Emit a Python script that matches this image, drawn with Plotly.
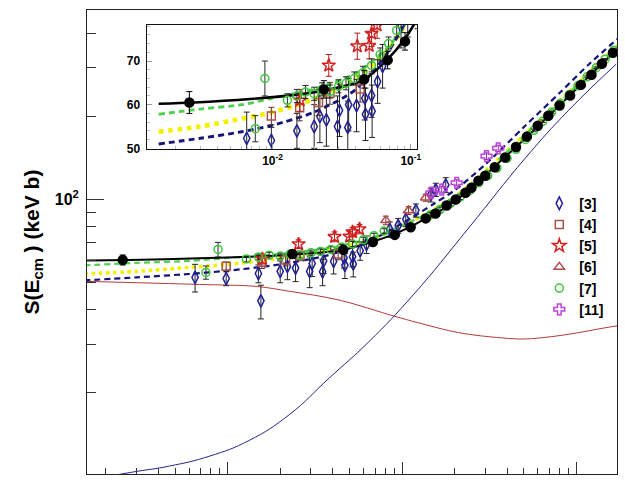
import plotly.graph_objects as go

# ---------------- model curves (E in MeV, S in keV b) ----------------
E_fit = [0.0015, 0.0027, 0.0069, 0.015, 0.024, 0.045, 0.067, 0.09, 0.112, 0.137,
         0.156, 0.20, 0.25, 0.357, 0.53, 0.786, 1.166, 1.75]
S_fit = [60.2, 60.5, 61.3, 62.3, 63.3, 65.6, 70.2, 75.0, 79.8, 85.5,
         89.1, 98.4, 110.4, 135.6, 170.6, 216.6, 277, 355]

E_grid = [0.0015, 0.003, 0.006, 0.01, 0.02, 0.04, 0.07, 0.1, 0.15, 0.2, 0.3, 0.5, 0.8, 1.2, 1.75]
S_green = [57.8, 59.0, 60.0, 61.5, 63.6, 67.2, 73.5, 80.5, 91, 101.5, 126, 170, 225, 289, 362]
S_yellow = [53.8, 55.0, 56.8, 58.3, 61.3, 66.0, 73.0, 80.5, 91.5, 102, 127, 171, 227, 291, 364]
S_navy = [51.0, 52.3, 53.8, 55.3, 58.3, 63.5, 72.5, 82, 96, 108, 134, 183, 243, 312, 385]

E_red = [0.0015, 0.0069, 0.0146, 0.0225, 0.0435, 0.0896, 0.1245, 0.211, 0.37, 0.5, 0.716, 1.0, 1.4, 1.75]
S_red = [50.6, 49.3, 48.5, 46.6, 43.3, 37.9, 35.8, 33.0, 31.6, 31.3, 31.9, 32.9, 34.2, 35.0]

E_blue = [0.00185, 0.002858, 0.004644, 0.007859, 0.0133, 0.02252, 0.03812, 0.06453,
          0.1166, 0.2404, 0.5091, 0.8966, 1.686]
S_blue = [9.84, 10.33, 10.86, 11.79, 13.45, 16.65, 22.58, 30.6,
          45.4, 78.8, 141.3, 209.6, 308.6]

# ---------------- data sets ----------------
E_dots = [0.0025, 0.0235, 0.046, 0.068, 0.0908, 0.112, 0.1366, 0.1556, 0.180, 0.203, 0.231,
          0.250, 0.274, 0.30, 0.34, 0.39, 0.45, 0.52, 0.60, 0.69, 0.80, 0.92, 1.06, 1.22, 1.40, 1.62]
S_dots = [60.5, 63.5, 65.8, 70.2, 74.5, 79.4, 85.5, 89.1, 95.2, 100, 105.9,
          110.4, 117, 122, 131, 142, 155, 169, 185, 201, 219, 238, 260, 283, 310, 340]
Err_dots = [2.5, 2.0, 2.0, 2.0, 2.0, 2.0, 2.0, 2.0, 2.0, 2.0, 2.0,
            2.0, 2.0, 2.0, 2.0, 2.0, 2.0, 2.0, 2.0, 2.0, 2.0, 2.0, 2.0, 2.0, 2.0, 2.0]

E3 = [0.0065, 0.0098, 0.0150, 0.0155, 0.0200, 0.0220, 0.0245, 0.0295, 0.0305, 0.0350, 0.0355,
      0.0405, 0.0465, 0.0470, 0.0520, 0.0525, 0.0575, 0.0625, 0.085, 0.095, 0.105, 0.120,
      0.146, 0.156, 0.178]
S3 = [52.3, 51.8, 54.0, 43.0, 55.0, 57.3, 56.5, 55.0, 58.7, 54.8, 60.0,
      59.8, 61.5, 57.8, 62.1, 58.5, 65.3, 68.8, 78.0, 80.5, 84.8, 91.4,
      104.0, 108.6, 113.0]
Err3 = [6, 3, 4, 6, 5, 6, 6, 7, 6, 6, 6,
        6, 5, 6, 5, 6, 5, 5, 5, 5, 5, 5,
        6, 6, 7]

E4 = [0.0098, 0.0157, 0.0215, 0.026, 0.043]
S4 = [57.4, 59.3, 60.5, 62.6, 63.6]
Err4 = [2, 3, 3, 2.5, 3]

E5 = [0.0158, 0.0255, 0.041, 0.050, 0.052, 0.057]
S5 = [61.0, 69.0, 73.4, 73.5, 76.3, 78.2]
Err5 = [2.5, 2.5, 3, 3, 3, 3]

E6 = [0.0807, 0.109, 0.1365]
S6 = [84.1, 91.3, 101.6]
Err6 = [3, 3, 3]

E7 = [0.0075, 0.0088, 0.0128, 0.0150, 0.0173, 0.0200, 0.0228, 0.026, 0.030, 0.034, 0.039,
      0.045, 0.052, 0.060, 0.069, 0.079, 0.145, 0.165, 0.19, 0.215, 0.245, 0.275, 0.31,
      0.35, 0.40, 0.45, 0.51, 0.57, 0.64, 0.72, 0.81, 0.91, 1.02, 1.15, 1.30, 1.46, 1.64]
S7 = [54.5, 66.0, 61.0, 62.0, 62.9, 62.5, 63.5, 63.0, 64.2, 64.9, 66.0,
      67.3, 69.0, 71.5, 74.0, 77.0, 88, 92, 97, 102, 108, 115, 122,
      130, 141, 152, 165, 178, 192, 207, 223, 240, 258, 278, 300, 322, 347]
Err7 = [3, 4, 1.5, 1.5, 1.5, 1.5, 1.5, 1.5, 1.5, 1.5, 1.5,
        1.5, 1.5, 1.5, 1.5, 1.5, 2, 2, 2, 2, 2, 2, 2,
        2, 2, 2, 2, 2, 2, 2, 2, 2, 2, 2, 2, 2, 2]

E11 = [0.1476, 0.1687, 0.2056, 0.305, 0.356]
S11 = [105.9, 108.6, 115.0, 143.6, 153.3]
Err11 = [3, 3, 3, 4, 4]

# tick positions
x_major = [0.01, 0.1, 1]
x_minor = [0.002, 0.003, 0.004, 0.005, 0.006, 0.007, 0.008, 0.009,
           0.02, 0.03, 0.04, 0.05, 0.06, 0.07, 0.08, 0.09,
           0.2, 0.3, 0.4, 0.5, 0.6, 0.7, 0.8, 0.9]
y_major = [100]
y_minor = [20, 30, 40, 50, 60, 70, 80, 90, 200, 300, 400]
ix_minor = [0.002, 0.003, 0.004, 0.005, 0.006, 0.007, 0.008, 0.009,
            0.02, 0.03, 0.04, 0.05, 0.06, 0.07, 0.08, 0.09]

FONT = "Liberation Sans, Arial, Helvetica, sans-serif"
fig = go.Figure()

AXES = [("x", "y", 1.0), ("x2", "y2", 1.3)]

def add_curve(E, S, color, width, dash, inset=True, smoothing=0.8):
    for xa, ya, k in (AXES if inset else AXES[:1]):
        fig.add_trace(go.Scatter(
            x=E, y=S, mode="lines", xaxis=xa, yaxis=ya, showlegend=False,
            hoverinfo="skip",
            line=dict(color=color, width=width * k, dash=dash, shape="spline",
                      smoothing=smoothing)))

add_curve(E_red, S_red, "#b03a3a", 1.0, "solid", inset=False, smoothing=1.0)
add_curve(E_blue, S_blue, "#25258a", 1.0, "solid", inset=False, smoothing=1.3)
add_curve(E_grid, S_yellow, "#f2f200", 3.6, "dot")
add_curve(E_grid, S_green, "#4fd14f", 2.2, "6px,4px")
add_curve(E_grid, S_navy, "#14147a", 2.2, "6px,4px")
add_curve(E_fit, S_fit, "#000000", 2.0, "solid")

def add_data(E, S, err, name, symbol, color, size, ecolor):
    for i, (xa, ya, k) in enumerate(AXES):
        fig.add_trace(go.Scatter(
            x=E, y=S, mode="markers", xaxis=xa, yaxis=ya,
            name=name, showlegend=(i == 0 and name is not None),
            error_y=dict(type="data", array=err, color=ecolor, thickness=1, width=3),
            marker=dict(symbol=symbol, size=size, color=color,
                        line=dict(color=color, width=1.5))))

add_data(E3, S3, Err3, "[3]", "diamond-tall-open", "#1f1f9a", 9, "#222222")
add_data(E4, S4, Err4, "[4]", "square-open", "#a8524a", 8, "#5a3030")
add_data(E5, S5, Err5, "[5]", "star-open", "#d42020", 10, "#b02020")
add_data(E6, S6, Err6, "[6]", "triangle-up-open", "#b04848", 9, "#803030")
add_data(E7, S7, Err7, "[7]", "circle-open", "#3ec43e", 8, "#2a2a2a")
add_data(E11, S11, Err11, "[11]", "cross-open", "#c040e0", 9, "#8a3aa0")
add_data(E_dots, S_dots, Err_dots, None, "circle", "#000000", 9, "#000000")

fig.update_layout(
    width=625, height=483,
    margin=dict(l=87, r=6, t=10, b=3),
    paper_bgcolor="white", plot_bgcolor="white",
    font=dict(family=FONT, color="black"),
    showlegend=True,
    legend=dict(x=(541 - 87) / 532, xanchor="left", y=(480 - 190) / 470, yanchor="top",
                bgcolor="rgba(0,0,0,0)", borderwidth=0, itemwidth=30,
                font=dict(family=FONT, size=14, color="black", weight="bold"),
                tracegroupgap=0),
    xaxis=dict(type="log", range=[-2.807, 0.2326], domain=[0, 1], anchor="y",
               showgrid=False, zeroline=False, showline=True, linecolor="#222",
               linewidth=1, mirror=True, ticks="inside", ticklen=12, tickcolor="#333",
               tickvals=x_major, showticklabels=False,
               minor=dict(tickvals=x_minor, ticks="inside", ticklen=6, tickcolor="#333")),
    yaxis=dict(type="log", range=[1.007, 2.686], domain=[0, 1], anchor="x",
               showgrid=False, zeroline=False, showline=True, linecolor="#222",
               linewidth=1, mirror=True, ticks="inside", ticklen=17, tickcolor="#333",
               tickvals=y_major, ticktext=["<b>10<sup>2</sup></b>"],
               tickfont=dict(size=16, family=FONT), ticklabelstandoff=4,
               minor=dict(tickvals=y_minor, ticks="inside", ticklen=9, tickcolor="#333"),
               title=dict(text="<b>S(E<sub>cm</sub> ) (keV b)</b>", standoff=9,
                          font=dict(size=21, family=FONT))),
    xaxis2=dict(type="log", range=[-2.91, -0.957], domain=[(147 - 87) / 532, (418 - 87) / 532],
                anchor="y2", showgrid=False, zeroline=False, showline=True, linecolor="#111",
                linewidth=1.3, mirror=True, ticks="inside", ticklen=5, tickcolor="#999",
                tickvals=[0.01, 0.1], ticktext=["<b>10<sup>-2</sup></b>", "<b>10<sup>-1</sup></b>"],
                tickfont=dict(size=12, family=FONT),
                minor=dict(tickvals=ix_minor, ticks="inside", ticklen=3, tickcolor="#bbb")),
    yaxis2=dict(range=[49.8, 78.3], domain=[(480 - 151) / 470, (480 - 25) / 470],
                anchor="x2", showgrid=False, zeroline=False, showline=True, linecolor="#111",
                linewidth=1.3, mirror=True, ticks="inside", ticklen=5, tickcolor="#999",
                tickvals=[50, 60, 70], ticktext=["<b>50</b>", "<b>60</b>", "<b>70</b>"],
                tickfont=dict(size=12, family=FONT), ticklabelstandoff=3,
                minor=dict(dtick=2, ticks="inside", ticklen=3, tickcolor="#bbb")),
)

fig.write_html("out.html")
